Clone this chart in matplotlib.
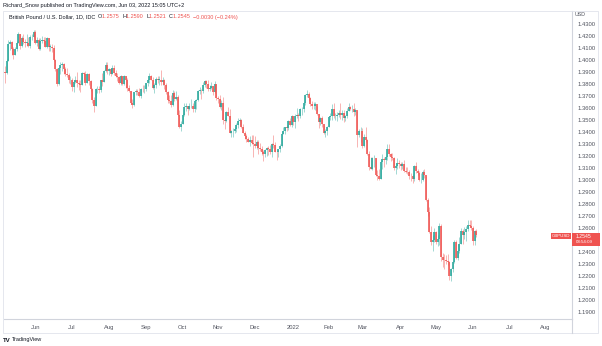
import matplotlib
matplotlib.use("Agg")
import matplotlib.pyplot as plt
from matplotlib.patches import Rectangle
import numpy as np
import pandas as pd

plt.rcParams['font.family'] = ['Liberation Sans', 'DejaVu Sans']

# GBP/USD daily candles, 6 May 2021 - 3 Jun 2022 (IDC)
first_open = 1.3900
highs = [
    1.3950, 1.4005,
    1.4165, 1.4165, 1.4160, 1.4105, 1.4110,
    1.4160, 1.4235, 1.4215, 1.4200, 1.4220,
    1.4175, 1.4220, 1.4190, 1.4210, 1.4215,
    1.4250, 1.4250, 1.4190, 1.4180, 1.4180,
    1.4200, 1.4190, 1.4195, 1.4190, 1.4185,
    1.4135, 1.4135, 1.4125, 1.4005, 1.3935,
    1.3945, 1.3985, 1.3985, 1.3975, 1.3945,
    1.3935, 1.3890, 1.3870, 1.3850, 1.3835,
    1.3870, 1.3900, 1.3835, 1.3835, 1.3900,
    1.3900, 1.3910, 1.3890, 1.3895, 1.3835,
    1.3770, 1.3690, 1.3765, 1.3785, 1.3780,
    1.3835, 1.3890, 1.3915, 1.3985, 1.3985,
    1.3935, 1.3935, 1.3960, 1.3960, 1.3920,
    1.3895, 1.3870, 1.3875, 1.3870, 1.3875,
    1.3865, 1.3850, 1.3795, 1.3740, 1.3675,
    1.3735, 1.3760, 1.3755, 1.3765, 1.3770,
    1.3790, 1.3790, 1.3805, 1.3840, 1.3890,
    1.3875, 1.3855, 1.3810, 1.3855, 1.3865,
    1.3870, 1.3915, 1.3855, 1.3840, 1.3810,
    1.3740, 1.3710, 1.3705, 1.3750, 1.3740,
    1.3745, 1.3705, 1.3580, 1.3495, 1.3560,
    1.3640, 1.3640, 1.3620, 1.3640, 1.3675,
    1.3640, 1.3655, 1.3675, 1.3750, 1.3775,
    1.3755, 1.3815, 1.3835, 1.3830, 1.3835,
    1.3790, 1.3815, 1.3785, 1.3825, 1.3800,
    1.3700, 1.3705, 1.3665, 1.3695, 1.3525,
    1.3575, 1.3605, 1.3590, 1.3420, 1.3430,
    1.3440, 1.3475, 1.3515, 1.3515, 1.3510,
    1.3470, 1.3410, 1.3385, 1.3360, 1.3365,
    1.3375, 1.3375, 1.3370, 1.3330, 1.3330,
    1.3305, 1.3280, 1.3250, 1.3255, 1.3275,
    1.3285, 1.3295, 1.3305, 1.3375, 1.3320,
    1.3250, 1.3260, 1.3300, 1.3410, 1.3440,
    1.3445, 1.3460, 1.3500, 1.3520, 1.3545,
    1.3530, 1.3550, 1.3600, 1.3560, 1.3600,
    1.3610, 1.3650, 1.3720, 1.3750, 1.3730,
    1.3690, 1.3655, 1.3650, 1.3650, 1.3620,
    1.3550, 1.3525, 1.3535, 1.3455, 1.3425,
    1.3450, 1.3535, 1.3560, 1.3630, 1.3640,
    1.3560, 1.3565, 1.3585, 1.3645, 1.3580,
    1.3580, 1.3545, 1.3600, 1.3640, 1.3620,
    1.3625, 1.3645, 1.3600, 1.3575, 1.3425,
    1.3440, 1.3430, 1.3385, 1.3440, 1.3340,
    1.3245, 1.3190, 1.3190, 1.3210, 1.3185,
    1.3080, 1.3090, 1.3170, 1.3215, 1.3190,
    1.3200, 1.3300, 1.3300, 1.3225, 1.3225,
    1.3195, 1.3145, 1.3185, 1.3165, 1.3150,
    1.3150, 1.3165, 1.3105, 1.3110, 1.3085,
    1.3055, 1.3050, 1.3125, 1.3150, 1.3090,
    1.3075, 1.3055, 1.3080, 1.3090, 1.3035,
    1.2850, 1.2775, 1.2615, 1.2545, 1.2600,
    1.2575, 1.2540, 1.2640, 1.2635, 1.2390,
    1.2385, 1.2375, 1.2385, 1.2325, 1.2265,
    1.2325, 1.2500, 1.2500, 1.2465, 1.2525,
    1.2600, 1.2590, 1.2605, 1.2615, 1.2665,
    1.2665, 1.2665, 1.2615, 1.2580, 1.2590,
]
lows = [
    1.3808, 1.3885,
    1.3990, 1.4085, 1.4040, 1.4005, 1.4040,
    1.4075, 1.4140, 1.4095, 1.4110, 1.4130,
    1.4110, 1.4115, 1.4110, 1.4100, 1.4165,
    1.4180, 1.4130, 1.4115, 1.4080, 1.4080,
    1.4140, 1.4135, 1.4105, 1.4100, 1.4075,
    1.4075, 1.4065, 1.3995, 1.3905, 1.3785,
    1.3790, 1.3880, 1.3910, 1.3880, 1.3870,
    1.3860, 1.3805, 1.3800, 1.3740, 1.3735,
    1.3810, 1.3775, 1.3750, 1.3730, 1.3790,
    1.3825, 1.3790, 1.3805, 1.3790, 1.3745,
    1.3645, 1.3570, 1.3615, 1.3725, 1.3725,
    1.3730, 1.3785, 1.3815, 1.3900, 1.3885,
    1.3875, 1.3865, 1.3880, 1.3875, 1.3860,
    1.3825, 1.3800, 1.3795, 1.3795, 1.3790,
    1.3765, 1.3740, 1.3730, 1.3635, 1.3600,
    1.3620, 1.3705, 1.3710, 1.3690, 1.3680,
    1.3730, 1.3725, 1.3740, 1.3780, 1.3810,
    1.3830, 1.3755, 1.3725, 1.3765, 1.3805,
    1.3795, 1.3790, 1.3790, 1.3755, 1.3720,
    1.3645, 1.3645, 1.3605, 1.3615, 1.3655,
    1.3665, 1.3530, 1.3430, 1.3410, 1.3465,
    1.3535, 1.3575, 1.3545, 1.3580, 1.3600,
    1.3570, 1.3570, 1.3590, 1.3660, 1.3720,
    1.3675, 1.3725, 1.3775, 1.3770, 1.3740,
    1.3740, 1.3755, 1.3705, 1.3725, 1.3670,
    1.3645, 1.3600, 1.3580, 1.3470, 1.3425,
    1.3480, 1.3530, 1.3390, 1.3355, 1.3355,
    1.3390, 1.3400, 1.3435, 1.3455, 1.3435,
    1.3390, 1.3345, 1.3315, 1.3315, 1.3280,
    1.3300, 1.3195, 1.3265, 1.3255, 1.3215,
    1.3240, 1.3210, 1.3160, 1.3195, 1.3200,
    1.3205, 1.3220, 1.3190, 1.3265, 1.3230,
    1.3170, 1.3195, 1.3235, 1.3275, 1.3380,
    1.3385, 1.3405, 1.3420, 1.3450, 1.3445,
    1.3460, 1.3435, 1.3520, 1.3490, 1.3515,
    1.3540, 1.3570, 1.3625, 1.3690, 1.3655,
    1.3620, 1.3595, 1.3590, 1.3585, 1.3540,
    1.3430, 1.3455, 1.3440, 1.3380, 1.3360,
    1.3375, 1.3440, 1.3500, 1.3500, 1.3520,
    1.3500, 1.3490, 1.3525, 1.3510, 1.3500,
    1.3485, 1.3490, 1.3520, 1.3575, 1.3580,
    1.3565, 1.3535, 1.3545, 1.3275, 1.3360,
    1.3315, 1.3265, 1.3275, 1.3315, 1.3210,
    1.3085, 1.3090, 1.3080, 1.3110, 1.3035,
    1.3000, 1.3000, 1.3005, 1.3090, 1.3110,
    1.3135, 1.3165, 1.3200, 1.3160, 1.3165,
    1.3085, 1.3050, 1.3095, 1.3100, 1.3085,
    1.3095, 1.3070, 1.3055, 1.3050, 1.3010,
    1.2990, 1.2975, 1.2995, 1.3060, 1.3040,
    1.2990, 1.2975, 1.2990, 1.3020, 1.2825,
    1.2700, 1.2560, 1.2460, 1.2410, 1.2480,
    1.2465, 1.2450, 1.2460, 1.2325, 1.2275,
    1.2260, 1.2300, 1.2295, 1.2165, 1.2155,
    1.2230, 1.2310, 1.2340, 1.2335, 1.2395,
    1.2465, 1.2465, 1.2510, 1.2495, 1.2575,
    1.2605, 1.2580, 1.2460, 1.2460, 1.2521,
]
closes = [
    1.3890, 1.3995,
    1.4135, 1.4148, 1.4095, 1.4045, 1.4090,
    1.4145, 1.4215, 1.4115, 1.4185, 1.4150,
    1.4145, 1.4145, 1.4115, 1.4190, 1.4190,
    1.4230, 1.4140, 1.4170, 1.4090, 1.4160,
    1.4165, 1.4155, 1.4110, 1.4180, 1.4110,
    1.4110, 1.4100, 1.4000, 1.3925, 1.3800,
    1.3930, 1.3960, 1.3965, 1.3925, 1.3880,
    1.3875, 1.3830, 1.3830, 1.3775, 1.3820,
    1.3835, 1.3810, 1.3800, 1.3795, 1.3890,
    1.3880, 1.3805, 1.3880, 1.3825, 1.3760,
    1.3665, 1.3620, 1.3755, 1.3760, 1.3750,
    1.3830, 1.3820, 1.3905, 1.3955, 1.3905,
    1.3925, 1.3880, 1.3935, 1.3890, 1.3870,
    1.3855, 1.3810, 1.3865, 1.3800, 1.3865,
    1.3835, 1.3770, 1.3740, 1.3640, 1.3625,
    1.3730, 1.3745, 1.3730, 1.3700, 1.3760,
    1.3755, 1.3755, 1.3805, 1.3830, 1.3865,
    1.3835, 1.3765, 1.3795, 1.3840, 1.3835,
    1.3835, 1.3815, 1.3835, 1.3790, 1.3730,
    1.3665, 1.3660, 1.3625, 1.3725, 1.3675,
    1.3695, 1.3545, 1.3440, 1.3470, 1.3545,
    1.3605, 1.3615, 1.3590, 1.3615, 1.3615,
    1.3595, 1.3660, 1.3670, 1.3745, 1.3745,
    1.3740, 1.3795, 1.3825, 1.3800, 1.3755,
    1.3765, 1.3780, 1.3735, 1.3800, 1.3685,
    1.3675, 1.3610, 1.3640, 1.3500, 1.3495,
    1.3570, 1.3535, 1.3395, 1.3405, 1.3410,
    1.3425, 1.3460, 1.3495, 1.3500, 1.3440,
    1.3395, 1.3365, 1.3345, 1.3315, 1.3335,
    1.3305, 1.3300, 1.3280, 1.3320, 1.3270,
    1.3260, 1.3235, 1.3215, 1.3250, 1.3270,
    1.3260, 1.3235, 1.3300, 1.3290, 1.3235,
    1.3230, 1.3255, 1.3280, 1.3385, 1.3405,
    1.3440, 1.3430, 1.3495, 1.3455, 1.3530,
    1.3480, 1.3530, 1.3540, 1.3535, 1.3590,
    1.3595, 1.3640, 1.3710, 1.3715, 1.3680,
    1.3630, 1.3615, 1.3620, 1.3635, 1.3550,
    1.3480, 1.3515, 1.3470, 1.3390, 1.3410,
    1.3445, 1.3525, 1.3535, 1.3595, 1.3530,
    1.3535, 1.3540, 1.3555, 1.3545, 1.3555,
    1.3520, 1.3530, 1.3575, 1.3605, 1.3590,
    1.3590, 1.3570, 1.3580, 1.3375, 1.3405,
    1.3410, 1.3285, 1.3355, 1.3330, 1.3215,
    1.3110, 1.3090, 1.3180, 1.3180, 1.3040,
    1.3035, 1.3005, 1.3150, 1.3175, 1.3170,
    1.3190, 1.3260, 1.3215, 1.3195, 1.3185,
    1.3100, 1.3120, 1.3145, 1.3135, 1.3115,
    1.3130, 1.3075, 1.3070, 1.3065, 1.3035,
    1.3030, 1.3005, 1.3115, 1.3075, 1.3060,
    1.3000, 1.3000, 1.3070, 1.3040, 1.2835,
    1.2730, 1.2570, 1.2480, 1.2500, 1.2570,
    1.2485, 1.2505, 1.2615, 1.2360, 1.2335,
    1.2330, 1.2325, 1.2315, 1.2200, 1.2260,
    1.2315, 1.2485, 1.2350, 1.2405, 1.2465,
    1.2575, 1.2540, 1.2565, 1.2595, 1.2625,
    1.2620, 1.2600, 1.2490, 1.2575, 1.2545,
]

price_ticks = [1.19, 1.20, 1.21, 1.22, 1.23, 1.24, 1.25, 1.26, 1.27, 1.28,
               1.29, 1.30, 1.31, 1.32, 1.33, 1.34, 1.35, 1.36, 1.37, 1.38,
               1.39, 1.40, 1.41, 1.42, 1.43]
month_labels = ['Jun', 'Jul', 'Aug', 'Sep', 'Oct', 'Nov', 'Dec', '2022',
                'Feb', 'Mar', 'Apr', 'May', 'Jun', 'Jul', 'Aug']

UP = '#26a69a'
DOWN = '#ef5350'
W, H = 602, 346

highs = np.array(highs)
lows = np.array(lows)
closes = np.array(closes)
opens = np.concatenate([[first_open], closes[:-1]])
n = len(closes)

# Business-day calendar (bars continue into the empty future area)
days = pd.bdate_range('2021-05-06', '2022-08-31')
month_start = []
for i in range(1, len(days)):
    if days[i].month != days[i - 1].month:
        month_start.append(i)

fig = plt.figure(figsize=(W / 100, H / 100), dpi=100)
fig.patch.set_facecolor('white')


def fx(x):
    return x / W


def fy(y):
    return 1 - y / H


ax = fig.add_axes([fx(4), fy(319), fx(572 - 4), (319 - 11) / H])
ax.set_facecolor('white')

idx = np.arange(n)
up = closes >= opens
colors = np.where(up, UP, DOWN)

# wicks
ax.vlines(idx, lows, highs, colors=colors, linewidth=0.5, alpha=0.6)
# bodies
body_lo = np.minimum(opens, closes)
body_hi = np.maximum(opens, closes)
body_hi = np.maximum(body_hi, body_lo + 0.0003)
ax.vlines(idx, body_lo, body_hi, colors=colors, linewidth=1.15)

px_per_bar = 1.677
x0 = -(5 - 4) / px_per_bar
x1 = x0 + (572 - 4) / px_per_bar
ax.set_xlim(x0, x1)
top_price = 1.43 + (24 - 11) / 1200
bot_price = 1.43 - (319 - 24) / 1200
ax.set_ylim(bot_price, top_price)

for s in ['top', 'left']:
    ax.spines[s].set_visible(False)
ax.spines['right'].set_color('#d1d4dc')
ax.spines['bottom'].set_color('#d1d4dc')
ax.spines['right'].set_linewidth(0.8)
ax.spines['bottom'].set_linewidth(0.8)

last = closes[-1]

# the scale label nearest the last price sits under the price tag
ax.yaxis.tick_right()
ax.set_yticks(price_ticks)
ax.set_yticklabels(['' if abs(p - last) < 0.005 else f'{p:.4f}' for p in price_ticks])
ax.tick_params(axis='y', length=0, pad=4, labelsize=4.2, labelcolor='#50535e')

ax.set_xticks(month_start[:len(month_labels)])
ax.set_xticklabels(month_labels)
ax.tick_params(axis='x', length=0, pad=4, labelsize=4.2, labelcolor='#50535e')

# pane frame
frame = Rectangle((fx(3), fy(333)), fx(598 - 3), (333 - 11) / H,
                  transform=fig.transFigure, fill=False,
                  edgecolor='#e0e3eb', linewidth=0.6)
fig.patches.append(frame)
fig.add_artist(plt.Line2D([fx(572), fx(572)], [fy(319), fy(333)],
                          color='#d1d4dc', linewidth=0.8))

# header and legend
fig.text(fx(3), fy(5), 'Richard_Snow published on TradingView.com, Jun 03, 2022 15:05 UTC+2',
         fontsize=4.0, color='#131722', va='center', ha='left')
t = fig.text(fx(9), fy(17), 'British Pound / U.S. Dollar, 1D, IDC  ',
             fontsize=4.0, color='#131722', va='center', ha='left')
legend_parts = [('O', '#131722'), ('1.2575  ', DOWN), ('H', '#131722'), ('1.2590  ', DOWN),
                ('L', '#131722'), ('1.2521  ', DOWN), ('C', '#131722'), ('1.2545  ', DOWN),
                ('\u22120.0030 (\u22120.24%)', DOWN)]
fig.canvas.draw()
renderer = fig.canvas.get_renderer()
prev = t
for txt, col in legend_parts:
    bb = prev.get_window_extent(renderer)
    prev = fig.text(bb.x1 / fig.bbox.width, fy(17), txt, fontsize=4.0, color=col,
                    va='center', ha='left')

fig.text(fx(575), fy(15), 'USD', fontsize=3.8, color='#50535e', va='center', ha='left')

# last price tag
ytag = 24 + (1.43 - last) * 1200
fig.patches.append(Rectangle((fx(572), fy(ytag + 11)), fx(28), 13 / H,
                             transform=fig.transFigure, facecolor=DOWN, edgecolor='none'))
fig.text(fx(576), fy(ytag + 1.8), f'{last:.4f}', fontsize=3.7, color='white',
         va='center', ha='left')
fig.text(fx(576), fy(ytag + 7.6), '08:54:09', fontsize=3.2, color='white',
         va='center', ha='left')
fig.patches.append(Rectangle((fx(551), fy(ytag + 4.5)), fx(20), 6.5 / H,
                             transform=fig.transFigure, facecolor=DOWN, edgecolor='none'))
fig.text(fx(561), fy(ytag + 1.3), 'GBPUSD', fontsize=3.2, color='white',
         va='center', ha='center')

# footer
fig.text(fx(3), fy(340), 'TV', fontsize=4.4, color='#131722', fontweight='bold',
         va='center', ha='left')
fig.text(fx(12), fy(340), 'TradingView', fontsize=4.0, color='#131722',
         va='center', ha='left')

fig.savefig('out.png', dpi=100, facecolor='white')
